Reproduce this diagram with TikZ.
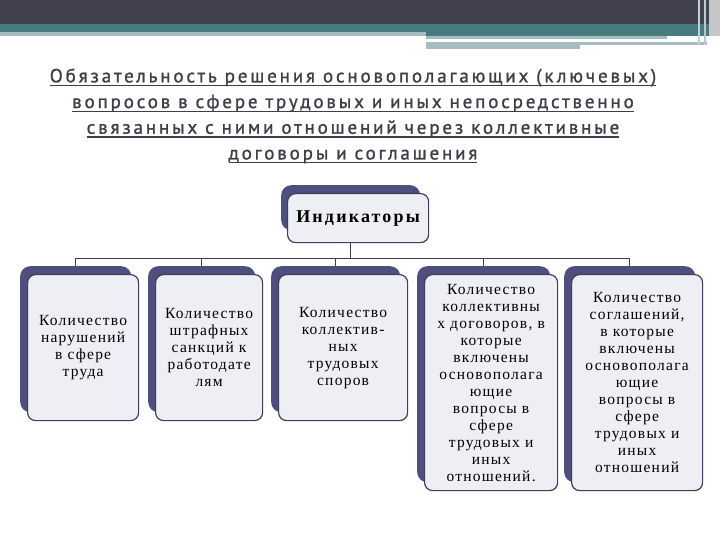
\documentclass[tikz,border=0pt]{standalone}
\usepackage{fontspec}
\setmainfont{Liberation Serif}
\newfontfamily\titlefont[LetterSpace=15,FakeBold=1.2]{PT Sans}
\newfontfamily\boxfont[LetterSpace=8]{Liberation Serif}
\newfontfamily\indfont[LetterSpace=12]{Liberation Serif}
\usepackage{xcolor}
\usetikzlibrary{positioning}

\definecolor{barDark}{HTML}{41414F}
\definecolor{barTeal}{HTML}{467C80}
\definecolor{barLight}{HTML}{A5BDC0}
\definecolor{boxDark}{HTML}{4E4F7E}
\definecolor{boxLine}{HTML}{3E3E5C}
\definecolor{boxFill}{HTML}{EEEEF5}
\definecolor{titleGray}{HTML}{3E3E48}

\newsavebox{\ulbox}
\newcommand{\ulline}[1]{\sbox{\ulbox}{#1}\rlap{\rule[-4pt]{\wd\ulbox}{1.3pt}}\usebox{\ulbox}}

\begin{document}
\begin{tikzpicture}[x=1pt,y=-1pt,
  backbox/.style={fill=boxDark, rounded corners=10pt, inner sep=0pt, anchor=north west},
  frontbox/.style={draw=boxLine, line width=1.2pt, fill=boxFill, rounded corners=8pt,
    inner sep=3pt, align=center, anchor=north west, font=\boxfont\fontsize{15.5}{17}\selectfont},
  conn/.style={draw=boxLine, line width=1pt}]
\useasboundingbox (0,0) rectangle (720,540);

% Draw header bars
\fill[barDark] (0,0) rectangle (720,24);
\fill[barTeal] (0,24) rectangle (720,32);
\fill[barLight] (0,32) rectangle (426,36);
\fill[barTeal] (426,32) rectangle (720,36);
\fill[barLight] (426,36) rectangle (667,39);
\fill[barLight] (426,42) rectangle (580,49);
\fill[barLight] (580,42) rectangle (707,45);
\fill[barLight!70!white] (698,0) rectangle (700,45);
\fill[barLight!80!white] (704,0) rectangle (706,45);
\fill[gray!45] (709,0) rectangle (720,36);

% Title
\node[font=\titlefont\fontsize{19}{25.7}\selectfont, text=titleGray, align=center] (title) at (353,116)
  {\ulline{Обязательность решения основополагающих (ключевых)}\\
   \ulline{вопросов в сфере трудовых и иных непосредственно}\\
   \ulline{связанных с ними отношений через коллективные}\\
   \ulline{договоры и соглашения}};

% Back boxes
\node[backbox, minimum width=139pt, minimum height=45pt] (indb) at (281,185) {};
\foreach \n/\x/\w/\h in {1/27/111/146, 2/155/107/146, 3/278/129/146, 4/424/133/216, 5/571/131/216}
  \node[backbox, minimum width=\w pt, minimum height=\h pt] (b\n) at (\x-7,266) {};

% Connectors
\coordinate (bus) at (0,258);
\draw[conn] (indb.south) -- (indb.south |- bus);
\draw[conn] (b1.north |- bus) -- (b5.north |- bus);
\foreach \n in {1,...,5}
  \draw[conn] (b\n.north |- bus) -- (b\n.north);

% Front boxes
\node[frontbox, minimum width=141pt, minimum height=49pt, font=\indfont\fontsize{18}{19}\selectfont\bfseries] (ind) at (287,193) {Индикаторы};
\foreach \n/\x/\w/\h/\txt in {
  1/27/111/146/{Количество\\нарушений\\в сфере\\труда},
  2/155/107/146/{Количество\\штрафных\\санкций к\\работодате\\лям},
  3/278/129/146/{Количество\\коллектив-\\ных\\трудовых\\споров},
  4/424/133/216/{Количество\\коллективны\\х договоров, в\\которые\\включены\\основополага\\ющие\\вопросы в\\сфере\\трудовых и\\иных\\отношений.},
  5/571/131/216/{Количество\\соглашений,\\в которые\\включены\\основополага\\ющие\\вопросы в\\сфере\\трудовых и\\иных\\отношений}} {
  \pgfmathsetmacro\tw{\w-6}
  \node[frontbox, minimum width=\w pt, minimum height=\h pt, text width=\tw pt] (f\n) at (\x,274) {\txt};
}
\end{tikzpicture}
\end{document}
